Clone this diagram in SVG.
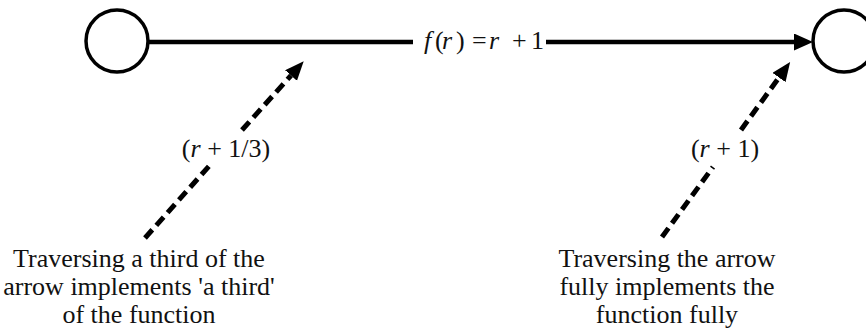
<svg xmlns="http://www.w3.org/2000/svg" width="866" height="333" viewBox="0 0 866 333">
<style>
.node{fill:#fff;stroke:#000;stroke-width:3.5}
.solid{fill:none;stroke:#000;stroke-width:4.5}
.dash{fill:none;stroke:#000;stroke-width:5;stroke-dasharray:11 6}
text{font-family:"Liberation Serif","Times New Roman",serif;fill:#111;font-size:26px}
.mid{text-anchor:middle}
.it{font-style:italic}
</style>
<defs>
<marker id="ah" markerUnits="userSpaceOnUse" markerWidth="20" markerHeight="18" refX="0" refY="8.5" orient="auto">
<path d="M0,0 L19,8.5 L0,17 z" fill="#000"/>
</marker>
<marker id="ahd" markerUnits="userSpaceOnUse" markerWidth="20" markerHeight="18" refX="0" refY="8" orient="auto">
<path d="M0,0 L19,8 L0,16 z" fill="#000"/>
</marker>
</defs>
<rect width="866" height="333" fill="#fff"/>
<g id="connectors">
<path class="solid" d="M148,42 H413"/>
<path class="solid" d="M546,42 H794" marker-end="url(#ah)"/>
<path class="dash" d="M145,238 L210,165"/>
<path class="dash" d="M242,130 L291,75.5" marker-end="url(#ahd)"/>
<path class="dash" d="M662,237 L713,167"/>
<path class="dash" d="M741,130 L779,77.5" marker-end="url(#ahd)"/>
</g>
<g id="node-left"><circle class="node" cx="117" cy="41" r="31"/></g>
<g id="node-right"><circle class="node" cx="844" cy="41" r="31"/></g>
<g id="label-function">
<text y="49"><tspan class="it" x="424">f</tspan><tspan x="435">(</tspan><tspan class="it" x="442">r</tspan><tspan x="456">)</tspan><tspan x="472">=</tspan><tspan class="it" x="489">r</tspan><tspan x="512">+</tspan><tspan x="531">1</tspan></text>
</g>
<g id="label-third">
<text x="226" y="157" class="mid" font-size="25">(<tspan class="it">r</tspan> + 1/3)</text>
</g>
<g id="label-full">
<text x="725" y="157" class="mid" font-size="25">(<tspan class="it">r</tspan> + 1)</text>
</g>
<g id="note-third">
<text class="mid" x="139" y="267">Traversing a third of the</text>
<text class="mid" x="139" y="295">arrow implements 'a third'</text>
<text class="mid" x="139" y="323">of the function</text>
</g>
<g id="note-full">
<text class="mid" x="667" y="267">Traversing the arrow</text>
<text class="mid" x="667" y="295">fully implements the</text>
<text class="mid" x="667" y="323">function fully</text>
</g>
</svg>
